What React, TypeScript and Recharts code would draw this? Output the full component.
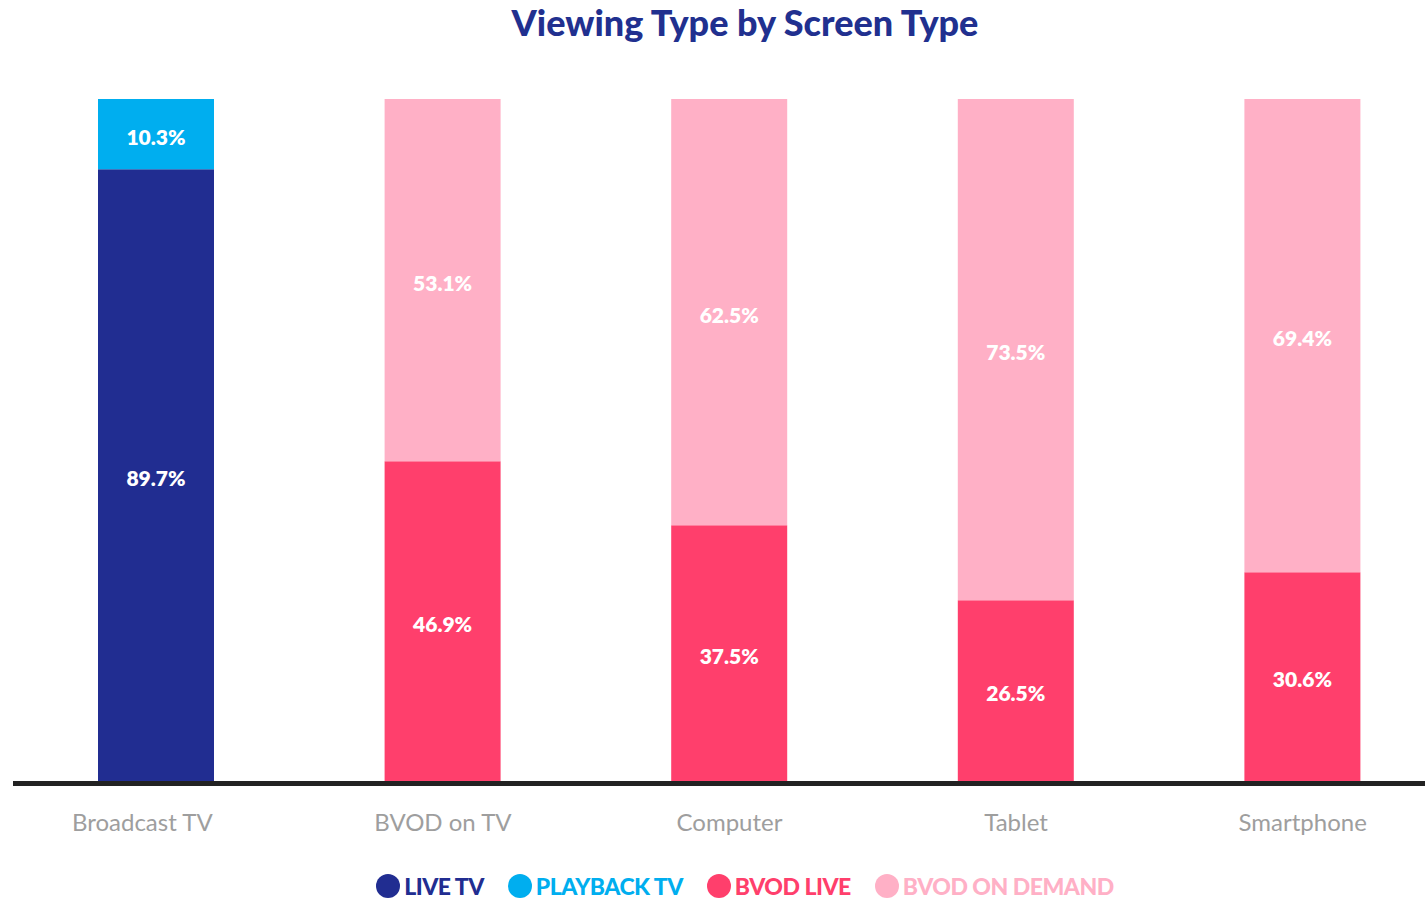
import { BarChart, Bar, XAxis, YAxis, LabelList, ReferenceLine } from "recharts";

const categories = ["Broadcast TV", "BVOD on TV", "Computer", "Tablet", "Smartphone"];
const liveTv = [89.7, 0, 0, 0, 0];
const playbackTv = [10.3, 0, 0, 0, 0];
const bvodLive = [0, 46.9, 37.5, 26.5, 30.6];
const bvodOnDemand = [0, 53.1, 62.5, 73.5, 69.4];

const series = [
  { key: "liveTv", name: "LIVE TV", color: "#212d91" },
  { key: "playbackTv", name: "PLAYBACK TV", color: "#00aeef" },
  { key: "bvodLive", name: "BVOD LIVE", color: "#ff3f6c" },
  { key: "bvodOnDemand", name: "BVOD ON DEMAND", color: "#ffb0c6" },
];

const data = categories.map((name, i) => ({
  name,
  liveTv: liveTv[i],
  playbackTv: playbackTv[i],
  bvodLive: bvodLive[i],
  bvodOnDemand: bvodOnDemand[i],
}));

const FONT = "Lato, 'Open Sans', sans-serif";

function ValueLabel(props: any) {
  const { x, y, width, height, value } = props;
  if (!value) return null;
  return (
    <text
      x={x + width / 2}
      y={y + height / 2 + 2}
      textAnchor="middle"
      dominantBaseline="central"
      fill="#ffffff"
      fontFamily={FONT}
      fontWeight={800}
      fontSize={21}
    >
      {value.toFixed(1)}%
    </text>
  );
}

function CategoryTick(props: any) {
  const { x, y, payload, index } = props;
  const shift = index === 0 ? -14 : 0;
  return (
    <text
      x={x + shift}
      y={y + 32}
      textAnchor="middle"
      dominantBaseline="central"
      fill="#9e9e9e"
      fontFamily={FONT}
      fontSize={24}
    >
      {payload.value}
    </text>
  );
}

function AxisBar(props: any) {
  const { x1, x2, y1 } = props;
  return <rect x={x1} y={y1} width={x2 - x1} height={5} fill="#222222" />;
}

export default function App() {
  return (
    <div
      style={{
        position: "absolute",
        left: 0,
        top: 0,
        width: 1425,
        height: 900,
        overflow: "hidden",
        background: "#ffffff",
        fontFamily: FONT,
      }}
    >
      <div
        style={{
          position: "absolute",
          top: 0,
          left: 0,
          width: 1490,
          textAlign: "center",
          fontSize: 36,
          fontWeight: 900,
          color: "#21308f",
          lineHeight: "44px",
        }}
      >
        Viewing Type by Screen Type
      </div>
      <BarChart
        width={1446}
        height={900}
        data={data}
        margin={{ top: 99, left: 13, right: 0, bottom: 0 }}
      >
        <XAxis
          dataKey="name"
          height={119}
          axisLine={false}
          tickLine={false}
          tick={<CategoryTick />}
          interval={0}
        />
        <YAxis hide domain={[0, 100]} width={0} />
        {series.map((s) => (
          <Bar
            key={s.key}
            dataKey={s.key}
            stackId="a"
            fill={s.color}
            barSize={116}
            isAnimationActive={false}
          >
            <LabelList dataKey={s.key} content={<ValueLabel />} />
          </Bar>
        ))}
        <ReferenceLine y={0} shape={<AxisBar />} ifOverflow="visible" />
      </BarChart>
      <div
        style={{
          position: "absolute",
          top: 872,
          left: 0,
          width: 1490,
          display: "flex",
          justifyContent: "center",
          gap: 24,
        }}
      >
        {series.map((s) => (
          <div key={s.key} style={{ display: "flex", alignItems: "center", gap: 4 }}>
            <span
              style={{
                width: 24,
                height: 24,
                borderRadius: 12,
                background: s.color,
                display: "inline-block",
              }}
            />
            <span
              style={{
                color: s.color,
                fontWeight: 900,
                fontSize: 23,
                lineHeight: "28px",
                letterSpacing: -0.5,
              }}
            >
              {s.name}
            </span>
          </div>
        ))}
      </div>
    </div>
  );
}
